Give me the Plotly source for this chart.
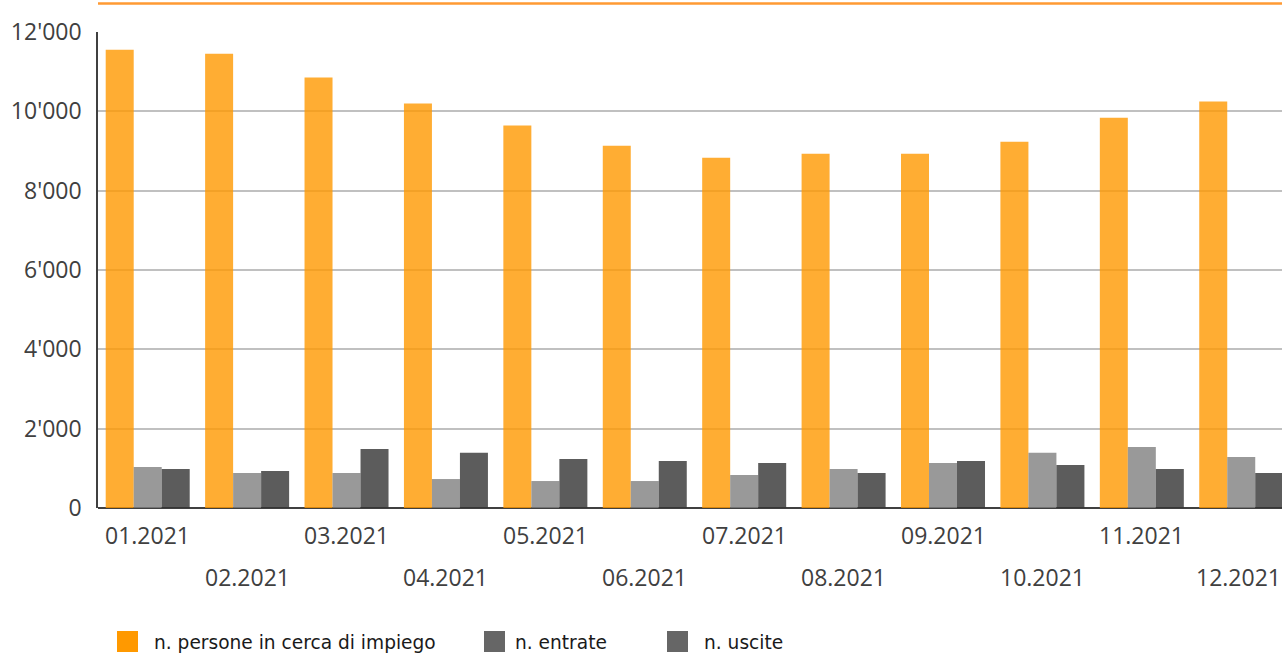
import plotly.graph_objects as go

months = ["01.2021", "02.2021", "03.2021", "04.2021", "05.2021", "06.2021",
          "07.2021", "08.2021", "09.2021", "10.2021", "11.2021", "12.2021"]
persone = [11550, 11450, 10850, 10200, 9640, 9135, 8830, 8930, 8930, 9235, 9840, 10245]
entrate = [1035, 885, 885, 730, 680, 680, 835, 985, 1135, 1390, 1540, 1285]
uscite = [985, 935, 1490, 1390, 1235, 1185, 1135, 885, 1185, 1085, 985, 885]
series_names = ["n. persone in cerca di impiego", "n. entrate", "n. uscite"]
y_ticks = [0, 2000, 4000, 6000, 8000, 10000, 12000]

W, H = 1282, 654
ML, MR, MT, MB = 98, 0, 32, 146
PW, PH = W - ML - MR, H - MT - MB

def px_x(px):
    return (px - ML) / PW

def px_y(py):
    return (H - MB - py) / PH

AXFONT = dict(family="Open Sans, Segoe UI, DejaVu Sans, sans-serif", size=23, color="#404040")
LEGFONT = dict(family="DejaVu Sans, Verdana, sans-serif", size=18.6, color="#1a1a1a")

fig = go.Figure()
bar_colors = ["rgba(255,153,0,0.8)", "rgba(128,128,128,0.8)", "rgba(51,51,51,0.8)"]
for name, vals, col in zip(series_names, [persone, entrate, uscite], bar_colors):
    fig.add_trace(go.Bar(x=months, y=vals, name=name, marker=dict(color=col, line=dict(width=0)),
                         showlegend=False))

# x labels alternating rows (category index positions)
for i, m in enumerate(months):
    fig.add_annotation(x=i, y=0, xref="x", yref="y", text=m, showarrow=False,
                       yanchor="middle", xanchor="center",
                       xshift=-3 if i == len(months) - 1 else 0,
                       yshift=-27 if i % 2 == 0 else -69, font=AXFONT)

# top orange rule
fig.add_shape(type="line", xref="paper", yref="paper", x0=0, x1=1,
              y0=px_y(3.5), y1=px_y(3.5), line=dict(color="#FF9A33", width=2.7))

# custom legend
leg_items = [(117, 152, "#FF9900"), (484, 513, "#666666"), (667, 702, "#666666")]
for (sq_x, tx, col), name in zip(leg_items, series_names):
    fig.add_shape(type="rect", xref="paper", yref="paper",
                  x0=px_x(sq_x), x1=px_x(sq_x + 21), y0=px_y(652), y1=px_y(631),
                  fillcolor=col, line=dict(width=0))
    fig.add_annotation(xref="paper", yref="paper", x=px_x(tx), y=px_y(642),
                       text=name, showarrow=False, xanchor="left", yanchor="middle",
                       font=LEGFONT)

fig.update_layout(
    width=W, height=H,
    margin=dict(l=ML, r=MR, t=MT, b=MB, pad=0),
    paper_bgcolor="white", plot_bgcolor="white",
    barmode="group", bargap=0.155, bargroupgap=0,
    separators=".'",
    xaxis=dict(type="category", range=[-0.5, 11.41], showticklabels=False,
               showgrid=False, ticks="", showline=False, zeroline=False),
    yaxis=dict(range=[0, 12000], tickvals=y_ticks, tickformat=",d",
               showgrid=True, gridcolor="#C0C0C0", gridwidth=1.5,
               zeroline=True, zerolinecolor="#404040", zerolinewidth=2,
               showline=True, linecolor="#404040", linewidth=1.5,
               ticks="", ticklabelstandoff=10, tickfont=AXFONT),
    font=AXFONT,
)

fig.write_html("out.html", config={"displayModeBar": False},
               post_script="document.body.style.margin='0';document.body.style.overflow='hidden';")
